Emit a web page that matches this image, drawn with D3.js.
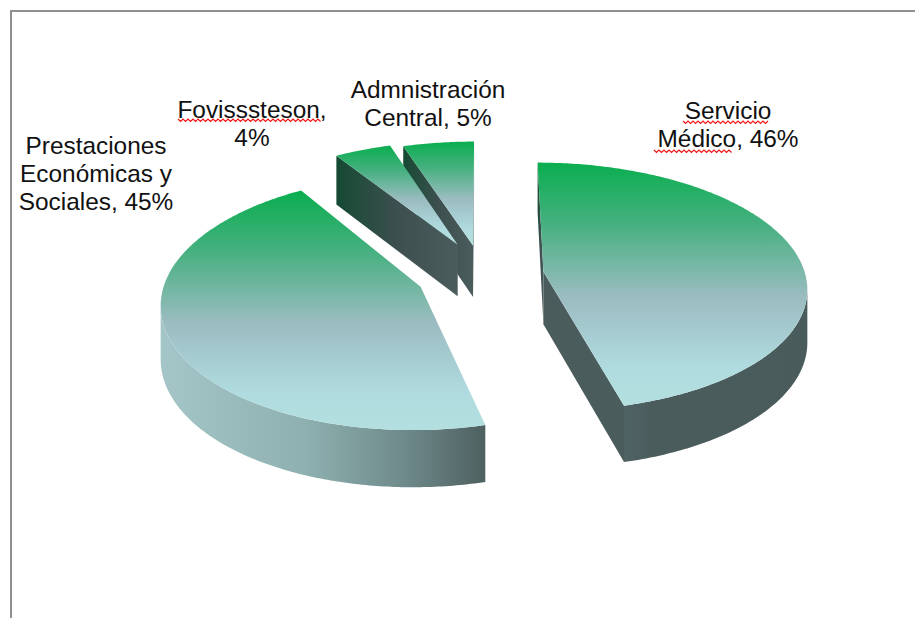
<!DOCTYPE html>
<html><head><meta charset="utf-8">
<script src="https://cdn.jsdelivr.net/npm/d3@7"></script>
<style>html,body{margin:0;padding:0;background:#fff;overflow:hidden}svg{display:block}text{font-family:"Liberation Sans",Arial,sans-serif;font-size:24.4px;fill:#111}</style>
</head><body><svg id="c" width="915" height="618"></svg>
<script>
const categories = ["Servicio Médico","Prestaciones Económicas y Sociales","Fovisssteson","Admnistración Central"];
const values = [46,45,4,5];
const labelLines = [["Servicio","Médico, 46%"],["Prestaciones","Económicas y","Sociales, 45%"],["Fovisssteson,","4%"],["Admnistración","Central, 5%"]];
const labelAnchors = [[728,118.5],[96,154],[252,118],[428,97.5]];
const explode = [0.21,0.24,0.28,0.25];
const nudge = [1,-9,0,-5];
const widthScale = [1,0.97,1,1];
const squiggles = [[683,770,122],[654,733,151],[178,322,120]];

const svg = d3.select("#c"), defs = svg.append("defs");
const X0=488,Y0=275,R=262,Rt=123,P=0.12,DEPTH=52.5;
const arcs=d3.pie().sort(null).startAngle(0).endAngle(2*Math.PI)(values);
const line=d3.line();
function grad(id,horizontal,stops){
  const g=defs.append("linearGradient").attr("id",id).attr("x1",0).attr("y1",0).attr("x2",horizontal?1:0).attr("y2",horizontal?0:1);
  stops.forEach(s=>g.append("stop").attr("offset",s[0]).attr("stop-color",s[1]));
  return `url(#${id})`;
}
const topFill=grad("top",false,[[0,"#0aae4f"],[0.25,"#45b07f"],[0.55,"#9bbcc1"],[0.85,"#b0dcdf"],[1,"#b3dfe0"]]);
const outerFills=[
 grad("o0",true,[[0,"#4f6263"],[0.15,"#4b5c5d"],[1,"#4a5b5c"]]),
 grad("o1",true,[[0,"#a4c6c8"],[0.45,"#8eb0b0"],[0.75,"#6f8a8b"],[1,"#4e6060"]]),
 "#4b5c5c","#4b5c5c"];
const startWall=grad("side",true,[[0,"#154a33"],[0.5,"#3d4f4f"],[1,"#4b5c5c"]]);
const endWall="#4b5c5d";
[3,2,1,0].forEach(i=>{
  const a=arcs[i],mid=(a.startAngle+a.endAngle)/2,e=explode[i];
  const ox=e*Math.sin(mid),oy=-e*Math.cos(mid),nx=nudge[i],sx=widthScale[i];
  const proj=(x,y,z)=>{const w=1/(1-P*y);return [X0+nx+R*x*w,Y0+Rt*y*w+z*Math.pow(w,0.6)];};
  const n=Math.max(8,Math.round((a.endAngle-a.startAngle)*80));
  const ang=d3.range(n+1).map(k=>a.startAngle+(a.endAngle-a.startAngle)*k/n);
  const pt=(t,z)=>proj(ox+sx*Math.sin(t),oy-Math.cos(t),z);
  const apex=z=>proj(ox,oy,z);
  const g=svg.append("g");
  const ax=apex(0)[0];
  const visible=ang.filter((t,k)=>k<n?pt(ang[k+1],0)[0]<pt(t,0)[0]:pt(ang[k-1],0)[0]>pt(t,0)[0]);
  if(visible.length>1){
    g.append("path").attr("d",line(visible.map(t=>pt(t,0)).concat(visible.map(t=>pt(t,DEPTH)).reverse()))+"Z").attr("fill",outerFills[i]);
  }
  if(pt(a.startAngle,0)[0]<ax+0.5) g.append("path").attr("d",line([apex(0),pt(a.startAngle,0),pt(a.startAngle,DEPTH),apex(DEPTH)])+"Z").attr("fill",startWall);
  if(pt(a.endAngle,0)[0]>ax-0.5) g.append("path").attr("d",line([apex(0),pt(a.endAngle,0),pt(a.endAngle,DEPTH),apex(DEPTH)])+"Z").attr("fill",endWall);
  g.append("path").attr("d",line([apex(0)].concat(ang.map(t=>pt(t,0))))+"Z").attr("fill",topFill);
});
labelLines.forEach((ls,i)=>{
  const t=svg.append("text").attr("text-anchor","middle");
  ls.forEach((s,j)=>t.append("tspan").attr("x",labelAnchors[i][0]).attr("y",labelAnchors[i][1]+j*28.2).text(s));
});
squiggles.forEach(s=>{
  const pts=d3.range(s[0],s[1]+.1,2.5).map((x,k)=>[x,s[2]+(k%2?1.5:-1)]);
  svg.append("path").attr("d",line(pts)).attr("fill","none").attr("stroke","#f01818").attr("stroke-width",1.2);
});
svg.append("path").attr("d",line([[11,618],[11,11],[915,11]])).attr("fill","none").attr("stroke","#8f8f8f").attr("stroke-width",2);
</script></body></html>
